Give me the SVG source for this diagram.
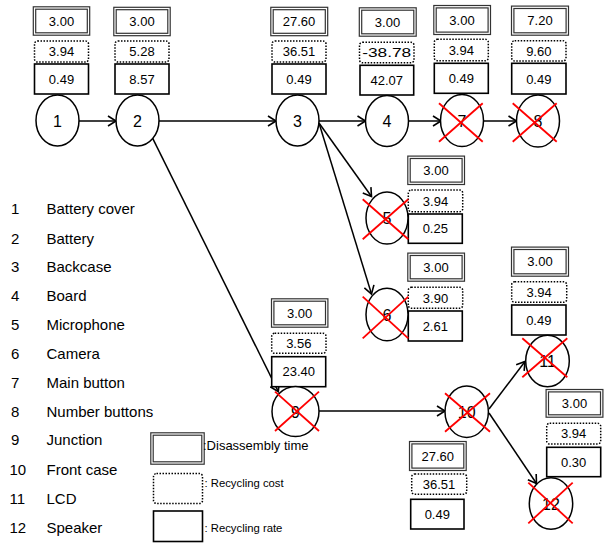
<svg xmlns="http://www.w3.org/2000/svg" width="607" height="544" viewBox="0 0 607 544">
<style>
text{font-family:"Liberation Sans",Arial,sans-serif;fill:#000}
.v{font-size:13px;text-anchor:middle}
.n{font-size:16px;text-anchor:middle}
.l{font-size:15px}
.lg{font-size:11.3px}
.dt-o{fill:#fff;stroke:#333;stroke-width:3.6}
.dt-i{fill:none;stroke:#fff;stroke-width:1.2}
.rc{fill:#fff;stroke:#000;stroke-width:1.5;stroke-dasharray:1.5 1.5}
.rr{fill:#fff;stroke:#000;stroke-width:1.6}
.nd{fill:#fff;stroke:#000;stroke-width:1.5}
.x{stroke:#f00;stroke-width:1.8}
.c{stroke:#000;stroke-width:1.5;fill:none;marker-end:url(#ah)}
</style>
<defs>
<marker id="ah" markerUnits="userSpaceOnUse" markerWidth="12" markerHeight="12" refX="9" refY="6" orient="auto">
<path d="M1,1 L9,6 L1,11" fill="none" stroke="#000" stroke-width="1.6"/>
</marker>
</defs>

<g id="connectors">
<line class="c" x1="79" y1="121" x2="116" y2="121"/>
<line class="c" x1="159" y1="121" x2="276" y2="121"/>
<line class="c" x1="319" y1="121" x2="365.5" y2="121"/>
<line class="c" x1="408.5" y1="121" x2="441" y2="121"/>
<line class="c" x1="483.5" y1="121" x2="516.5" y2="121"/>
<line class="c" x1="319" y1="123" x2="371.5" y2="196.5"/>
<line class="c" x1="319" y1="123" x2="371.5" y2="294"/>
<line class="c" x1="152.7" y1="138.3" x2="278.3" y2="391.7"/>
<line class="c" x1="319" y1="411" x2="445" y2="411"/>
<line class="c" x1="489" y1="409" x2="525" y2="361.5"/>
<line class="c" x1="489" y1="413" x2="536.5" y2="483.5"/>
</g>

<g id="node1">
<rect class="dt-o" x="34.5" y="8" width="54" height="26"/><rect class="dt-i" x="34.5" y="8" width="54" height="26"/>
<text class="v" x="61.5" y="25.5">3.00</text>
<rect class="rc" x="34.5" y="41" width="54" height="21" rx="3"/>
<text class="v" x="61.5" y="56">3.94</text>
<rect class="rr" x="34.5" y="64" width="54" height="30"/>
<text class="v" x="61.5" y="83.5">0.49</text>
<ellipse class="nd" cx="57.5" cy="120.5" rx="21.5" ry="25.5"/>
<text class="n" x="57.5" y="126.5">1</text>
</g>

<g id="node2">
<rect class="dt-o" x="115" y="8.5" width="54" height="26"/><rect class="dt-i" x="115" y="8.5" width="54" height="26"/>
<text class="v" x="142" y="26">3.00</text>
<rect class="rc" x="115" y="41" width="54" height="21" rx="3"/>
<text class="v" x="142" y="56">5.28</text>
<rect class="rr" x="115" y="64" width="54" height="30"/>
<text class="v" x="142" y="83.5">8.57</text>
<ellipse class="nd" cx="137.5" cy="120.5" rx="21.5" ry="25.5"/>
<text class="n" x="137.5" y="126.5">2</text>
</g>

<g id="node3">
<rect class="dt-o" x="272" y="8.5" width="54.5" height="26"/><rect class="dt-i" x="272" y="8.5" width="54.5" height="26"/>
<text class="v" x="299" y="26">27.60</text>
<rect class="rc" x="272" y="41" width="54" height="21" rx="3"/>
<text class="v" x="299" y="56">36.51</text>
<rect class="rr" x="272" y="64" width="54" height="30"/>
<text class="v" x="299" y="83.5">0.49</text>
<ellipse class="nd" cx="297.5" cy="120.5" rx="21.5" ry="25.5"/>
<text class="n" x="297.5" y="126.5">3</text>
</g>

<g id="node4">
<rect class="dt-o" x="360.5" y="9" width="54.5" height="26"/><rect class="dt-i" x="360.5" y="9" width="54.5" height="26"/>
<text class="v" x="387.5" y="26.5">3.00</text>
<rect class="rc" x="359.5" y="42.3" width="54.5" height="20.5" rx="3"/>
<text class="v" x="386.7" y="57" textLength="49" lengthAdjust="spacingAndGlyphs">-38.78</text>
<rect class="rr" x="360" y="65.3" width="53.7" height="29.7"/>
<text class="v" x="386.8" y="85">42.07</text>
<ellipse class="nd" cx="387" cy="121" rx="21.5" ry="25.5"/>
<text class="n" x="387" y="127">4</text>
</g>

<g id="node7">
<rect class="dt-o" x="435" y="6.7" width="54.3" height="26.6"/><rect class="dt-i" x="435" y="6.7" width="54.3" height="26.6"/>
<text class="v" x="462" y="24.5">3.00</text>
<rect class="rc" x="434.3" y="39.3" width="54" height="21.4" rx="3"/>
<text class="v" x="461.3" y="54.5">3.94</text>
<rect class="rr" x="434.3" y="63.3" width="54" height="30"/>
<text class="v" x="461.3" y="83">0.49</text>
<ellipse class="nd" cx="462" cy="120.5" rx="21.5" ry="26"/>
<text class="n" x="462" y="126.5">7</text>
<line class="x" x1="439" y1="103.3" x2="482.7" y2="141.7"/>
<line class="x" x1="482.7" y1="103.3" x2="439" y2="141.7"/>
</g>

<g id="node8">
<rect class="dt-o" x="512.7" y="7.3" width="54.6" height="26.7"/><rect class="dt-i" x="512.7" y="7.3" width="54.6" height="26.7"/>
<text class="v" x="540" y="25">7.20</text>
<rect class="rc" x="511.7" y="40.7" width="54.3" height="20.3" rx="3"/>
<text class="v" x="538.8" y="55.5">9.60</text>
<rect class="rr" x="511.7" y="63.3" width="54.3" height="30.7"/>
<text class="v" x="538.8" y="83.5">0.49</text>
<ellipse class="nd" cx="538" cy="121" rx="21.5" ry="26"/>
<text class="n" x="538" y="127">8</text>
<line class="x" x1="512.7" y1="103.3" x2="556.7" y2="141.7"/>
<line class="x" x1="556.7" y1="103.3" x2="512.7" y2="141.7"/>
</g>

<g id="node5">
<rect class="dt-o" x="409" y="157.3" width="54.3" height="26"/><rect class="dt-i" x="409" y="157.3" width="54.3" height="26"/>
<text class="v" x="436" y="175">3.00</text>
<rect class="rc" x="408.3" y="190" width="54.4" height="21.7" rx="3"/>
<text class="v" x="435.5" y="205.5">3.94</text>
<rect class="rr" x="408.3" y="214" width="54" height="29.3"/>
<text class="v" x="435.3" y="233.3">0.25</text>
<ellipse class="nd" cx="387" cy="218" rx="21" ry="26"/>
<text class="n" x="387" y="224">5</text>
<line class="x" x1="362.7" y1="199.3" x2="408.3" y2="239.3"/>
<line class="x" x1="408.3" y1="199.3" x2="362.7" y2="239.3"/>
</g>

<g id="node6">
<rect class="dt-o" x="409" y="254.3" width="54.3" height="25.7"/><rect class="dt-i" x="409" y="254.3" width="54.3" height="25.7"/>
<text class="v" x="436" y="271.7">3.00</text>
<rect class="rc" x="408.3" y="287.3" width="54.4" height="21" rx="3"/>
<text class="v" x="435.5" y="302.5">3.90</text>
<rect class="rr" x="408.3" y="311" width="54" height="30"/>
<text class="v" x="435.3" y="330.5">2.61</text>
<ellipse class="nd" cx="387" cy="314.5" rx="21" ry="26.3"/>
<text class="n" x="387" y="320.5">6</text>
<line class="x" x1="362.7" y1="296.7" x2="408.3" y2="338.3"/>
<line class="x" x1="408.3" y1="296.7" x2="362.7" y2="338.3"/>
</g>

<g id="node9">
<rect class="dt-o" x="272.7" y="300" width="54" height="26"/><rect class="dt-i" x="272.7" y="300" width="54" height="26"/>
<text class="v" x="299.7" y="317.5">3.00</text>
<rect class="rc" x="271.7" y="333.3" width="54.3" height="20" rx="3"/>
<text class="v" x="298.8" y="348">3.56</text>
<rect class="rr" x="271.7" y="356.7" width="54" height="30"/>
<text class="v" x="298.7" y="376.3">23.40</text>
<ellipse class="nd" cx="295.5" cy="411.5" rx="23.5" ry="25"/>
<text class="n" x="295.5" y="417.5">9</text>
<line class="x" x1="275" y1="391.7" x2="319" y2="431"/>
<line class="x" x1="319" y1="391.7" x2="275" y2="431"/>
</g>

<g id="node10">
<rect class="dt-o" x="410.7" y="442.7" width="54.3" height="26.6"/><rect class="dt-i" x="410.7" y="442.7" width="54.3" height="26.6"/>
<text class="v" x="437.8" y="460.5">27.60</text>
<rect class="rc" x="411.7" y="474" width="55" height="20.3" rx="3"/>
<text class="v" x="439" y="488.7">36.51</text>
<rect class="rr" x="410.7" y="499.3" width="53.3" height="29.7"/>
<text class="v" x="437.3" y="518.7">0.49</text>
<ellipse class="nd" cx="466.7" cy="411.7" rx="21.7" ry="25.7"/>
<text class="n" x="466.7" y="417.7">10</text>
<line class="x" x1="445" y1="393.3" x2="490" y2="431.7"/>
<line class="x" x1="490" y1="393.3" x2="445" y2="431.7"/>
</g>

<g id="node11">
<rect class="dt-o" x="512.7" y="248.3" width="54.6" height="26.7"/><rect class="dt-i" x="512.7" y="248.3" width="54.6" height="26.7"/>
<text class="v" x="540" y="266">3.00</text>
<rect class="rc" x="511.7" y="281.7" width="55" height="20.6" rx="3"/>
<text class="v" x="539.2" y="296.5">3.94</text>
<rect class="rr" x="511.7" y="305" width="54.3" height="30"/>
<text class="v" x="538.8" y="324.5">0.49</text>
<ellipse class="nd" cx="547.5" cy="361" rx="21.8" ry="25.8"/>
<text class="n" x="547.5" y="367">11</text>
<line class="x" x1="522.3" y1="338.3" x2="567.3" y2="377.3"/>
<line class="x" x1="567.3" y1="338.3" x2="522.3" y2="377.3"/>
</g>

<g id="node12">
<rect class="dt-o" x="547.3" y="390.7" width="54.4" height="25.3"/><rect class="dt-i" x="547.3" y="390.7" width="54.4" height="25.3"/>
<text class="v" x="574.5" y="408">3.00</text>
<rect class="rc" x="546.7" y="423.3" width="54" height="20.7" rx="3"/>
<text class="v" x="573.7" y="438.3">3.94</text>
<rect class="rr" x="546.7" y="447.3" width="54" height="29.4"/>
<text class="v" x="573.7" y="466.7">0.30</text>
<ellipse class="nd" cx="551" cy="503.5" rx="21.7" ry="25.8"/>
<text class="n" x="551" y="509.5">12</text>
<line class="x" x1="528.3" y1="482.7" x2="572.7" y2="523.3"/>
<line class="x" x1="572.7" y1="482.7" x2="528.3" y2="523.3"/>
</g>

<g id="list">
<text class="l" x="11" y="214">1</text><text class="l" x="46.5" y="214">Battery cover</text>
<text class="l" x="11" y="244">2</text><text class="l" x="46.5" y="244">Battery</text>
<text class="l" x="11" y="272">3</text><text class="l" x="46.5" y="272">Backcase</text>
<text class="l" x="11" y="301">4</text><text class="l" x="46.5" y="301">Board</text>
<text class="l" x="11" y="330">5</text><text class="l" x="46.5" y="330">Microphone</text>
<text class="l" x="11" y="359">6</text><text class="l" x="46.5" y="359">Camera</text>
<text class="l" x="11" y="388">7</text><text class="l" x="46.5" y="388">Main button</text>
<text class="l" x="11" y="417">8</text><text class="l" x="46.5" y="417">Number buttons</text>
<text class="l" x="11" y="445">9</text><text class="l" x="46.5" y="445">Junction</text>
<text class="l" x="9.5" y="474.5">10</text><text class="l" x="46.5" y="474.5">Front case</text>
<text class="l" x="9.5" y="503.5">11</text><text class="l" x="46.5" y="503.5">LCD</text>
<text class="l" x="9.5" y="532.5">12</text><text class="l" x="46.5" y="532.5">Speaker</text>
</g>

<g id="legend">
<rect class="dt-o" x="152" y="434" width="51" height="29"/><rect class="dt-i" x="152" y="434" width="51" height="29"/>
<text x="203" y="450" style="font-size:13px">:Disassembly time</text>
<rect class="rc" x="153.5" y="473.5" width="49" height="30" rx="3"/>
<text class="lg" x="204.5" y="486.5">: Recycling cost</text>
<rect class="rr" x="153.5" y="511" width="49" height="30.5"/>
<text class="lg" x="204.5" y="532">: Recycling rate</text>
</g>
</svg>
